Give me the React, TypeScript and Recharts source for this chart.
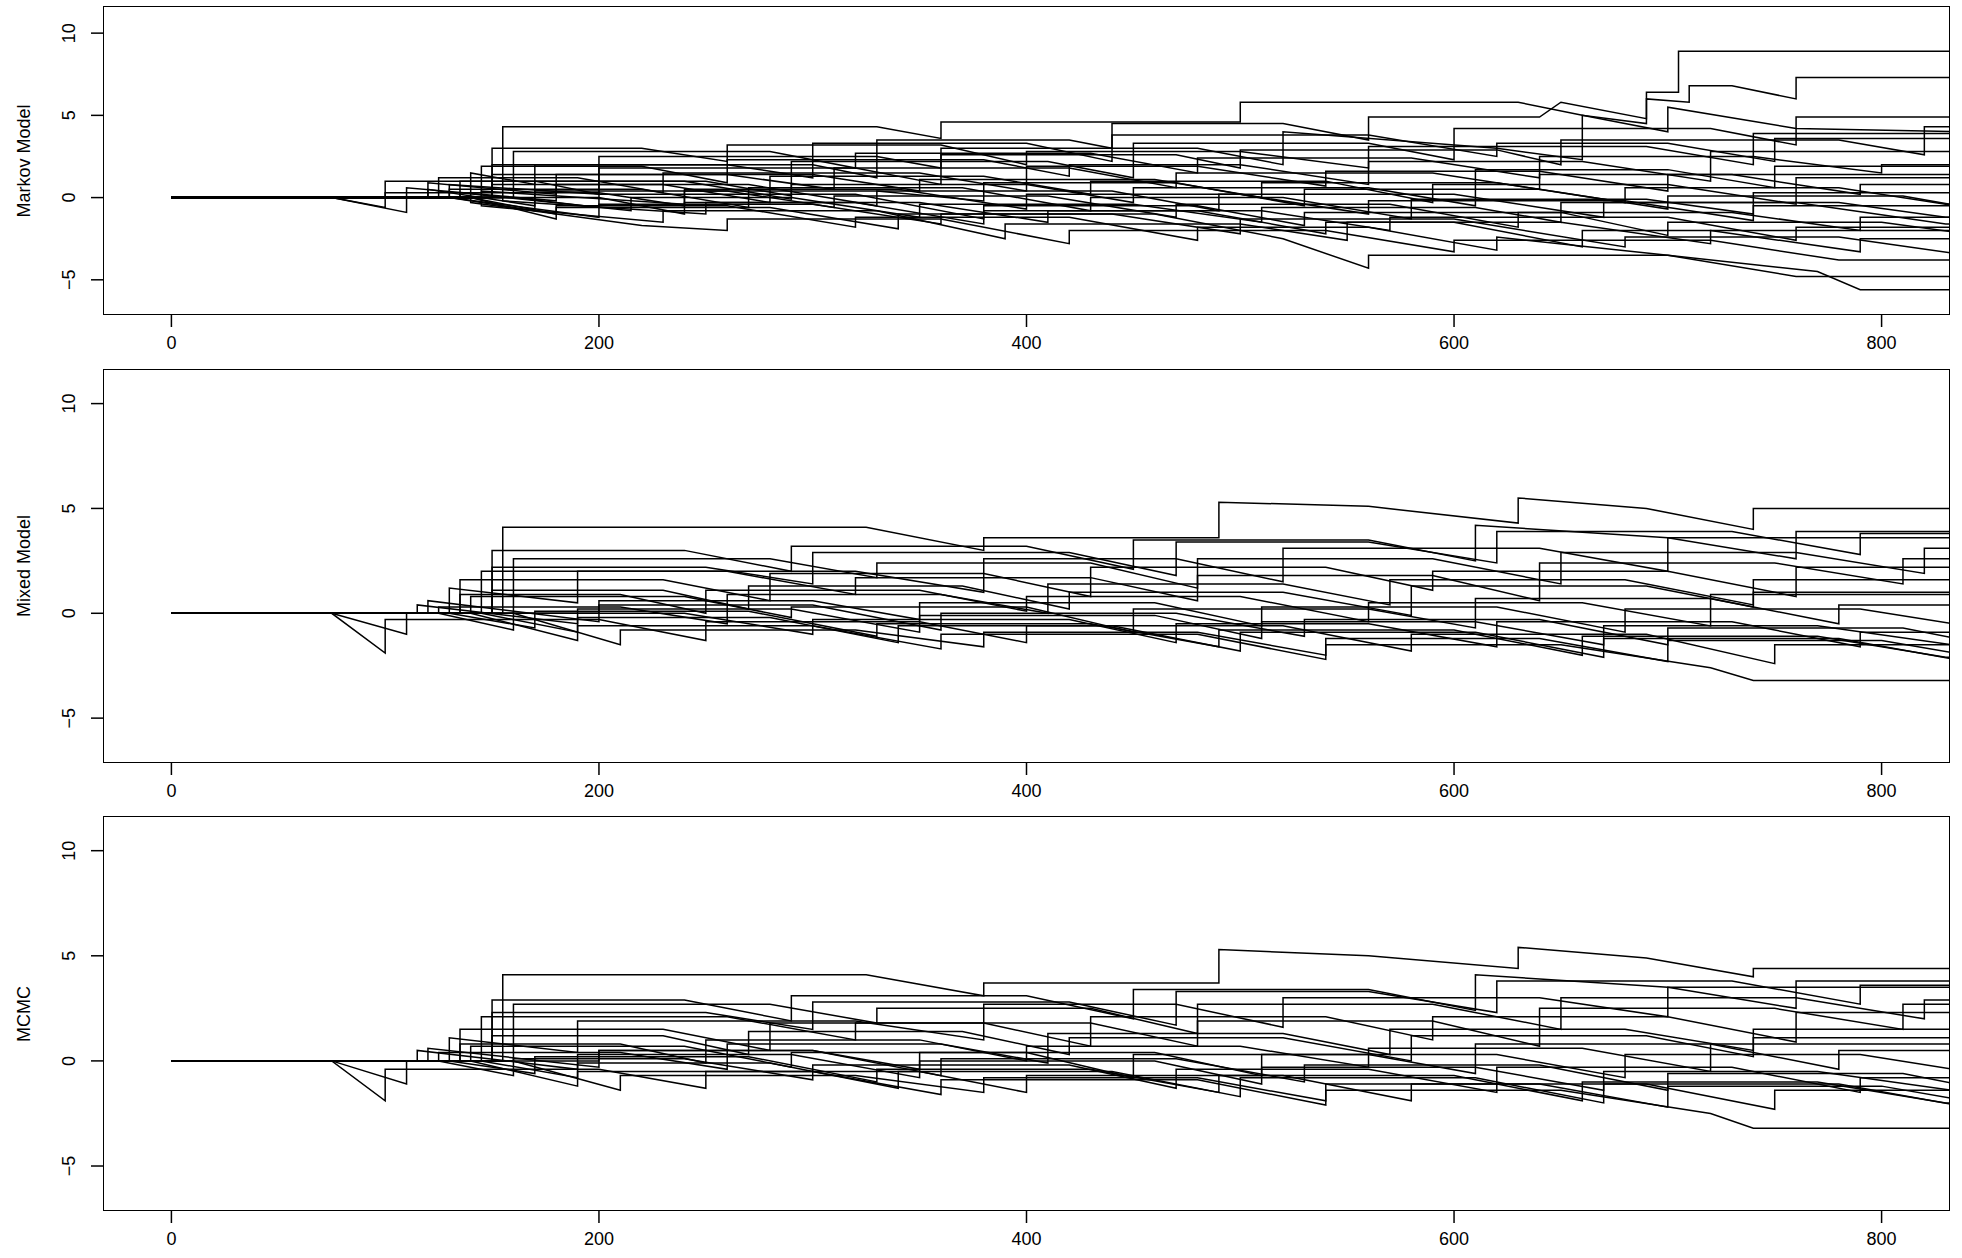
import { LineChart, Line, XAxis, YAxis } from "recharts";

const X_TICKS = [0, 200, 400, 600, 800];
const Y_TICKS = [-5, 0, 5, 10];
const PANEL_LABELS = ["Markov Model", "Mixed Model", "MCMC"];

// each path: flat list x0,y0,x1,y1,...
const MARKOV = [
  [0,0,155,0,155,4.3,330,4.3,360,3.6,360,4.6,500,4.6,500,5.8,630,5.8,660,5.0,700,4.0,700,5.5,760,4.2,840,4.0],
  [0,0,140,0,140,1.5,170,0.8,170,2.0,300,2.0,330,1.2,330,3.5,420,3.5,440,3.0,440,4.5,520,4.5,560,3.5,560,4.9,640,4.9,650,5.8,690,4.8,690,6.4,705,6.4,705,8.9,840,8.9],
  [0,0,130,0,130,0.8,200,0.2,200,2.5,330,2.5,360,1.8,360,3.0,480,3.0,520,2.0,520,4.0,620,3.0,660,2.3,660,5.0,690,4.5,690,6.0,710,5.8,710,6.8,730,6.8,760,6.0,760,7.3,840,7.3],
  [0,0,120,0,120,0.5,170,-0.5,170,1.0,250,1.0,290,0.1,290,2.2,410,2.2,450,1.2,450,3.3,560,3.3,600,2.3,600,4.2,720,4.2,760,3.2,760,4.9,840,4.9],
  [0,0,100,0,100,1.0,170,1.0,200,0.2,200,1.8,320,1.8,360,0.8,360,2.6,470,2.6,500,1.8,500,2.9,620,2.9,650,2.0,650,3.5,780,3.5,820,2.6,820,4.3,840,4.3],
  [0,0,75,0,110,-0.9,110,0,200,0,240,-1.0,240,-0.3,320,-0.3,380,-1.6,380,-0.8,480,-0.8,540,-2.2,540,-1.5,600,-1.5,660,-3.0,660,-2.0,720,-2.0,790,-3.3,790,-2.5,840,-2.5],
  [0,0,140,0,180,-1.0,180,-0.5,260,-0.5,320,-1.8,320,-1.2,420,-1.2,480,-2.6,480,-1.8,560,-1.8,620,-3.2,620,-2.4,700,-3.5,770,-4.5,790,-5.6,840,-5.6],
  [0,0,130,0,200,-1.2,200,-0.4,300,-0.4,360,-1.6,360,-1.0,460,-1.0,520,-2.5,560,-4.3,560,-3.5,700,-3.5,760,-4.8,840,-4.8],
  [0,0,75,0,100,-0.6,100,0.3,200,0.3,240,-0.5,240,0.5,340,0.5,400,-0.7,400,0.2,500,0.2,560,-1.0,560,-0.2,680,-0.2,740,-1.4,740,-0.5,840,-0.5],
  [0,0,150,0,150,0.8,230,0.8,280,-0.3,280,1.3,380,1.3,430,0.2,430,1.0,540,1.0,590,-0.3,590,0.8,700,0.8,760,-0.4,760,1.2,840,1.2],
  [0,0,145,0,145,-0.5,230,-1.5,230,-0.8,330,-0.8,390,-2.5,390,-1.6,500,-1.6,550,-2.6,550,-1.5,650,-1.5,720,-2.8,720,-2.0,840,-2.0],
  [0,0,135,0,135,0.3,215,-0.8,215,0.0,290,0.0,350,-1.2,350,-0.4,450,-0.4,510,-1.5,510,-0.6,610,-0.6,650,-1.5,650,-0.3,760,-0.3,830,-1.6,840,-1.6],
  [0,0,160,0,160,2.8,280,2.8,320,1.8,320,2.7,430,2.7,480,1.5,480,2.4,580,2.4,640,1.2,640,2.5,740,2.5,800,1.5,800,2.0,840,2.0],
  [0,0,125,0,125,1.2,190,1.2,230,0.3,230,1.5,350,1.5,400,0.4,400,1.9,480,1.9,540,0.7,540,1.6,640,1.6,700,0.4,700,1.4,840,1.4],
  [0,0,140,0,140,-0.3,220,-1.7,260,-2.0,260,-1.3,360,-1.3,420,-2.8,420,-2.0,540,-2.0,600,-3.3,600,-2.6,720,-2.6,780,-3.8,840,-3.8],
  [0,0,110,0,110,0.6,180,-0.2,180,0.8,270,0.8,330,-0.5,330,0.4,440,0.4,490,-0.8,490,0.2,600,0.2,670,-1.2,670,-0.3,780,-0.3,830,-1.2,840,-1.2],
  [0,0,150,0,150,2.0,260,2.0,300,1.2,300,3.3,400,3.3,440,2.2,440,3.8,560,3.8,620,2.5,620,3.3,700,3.3,750,2.2,750,3.6,840,3.6],
  [0,0,130,0,170,-0.8,170,0.4,260,0.4,310,-0.6,310,0.1,410,0.1,470,-1.2,470,-0.4,570,-0.4,630,-1.8,630,-0.9,730,-0.9,790,-2.0,790,-1.2,840,-1.2],
  [0,0,120,0,120,0.9,180,0.2,180,1.4,300,1.4,350,0.4,350,1.1,460,1.1,510,0.0,510,0.9,620,0.9,680,-0.3,680,0.6,780,0.6,830,-0.4,840,-0.4],
  [0,0,145,0,145,1.9,220,1.9,260,0.9,260,2.3,380,2.3,420,1.3,420,2.0,500,2.0,560,0.8,560,2.2,660,2.2,720,1.0,720,2.8,840,2.8],
  [0,0,160,0,200,-0.6,200,0.2,320,0.2,380,-1.3,380,-0.5,480,-0.5,530,-1.7,530,-0.9,650,-0.9,700,-2.3,700,-1.5,800,-1.5,840,-2.2],
  [0,0,130,0,130,0.5,220,0.5,270,-0.6,270,0.6,370,0.6,430,-0.8,430,0.0,520,0.0,580,-1.3,580,-0.1,690,-0.1,740,-1.0,740,0.3,840,0.3],
  [0,0,150,0,150,3.0,220,3.0,260,2.2,260,3.2,360,3.2,400,2.0,400,2.8,500,2.8,560,1.8,560,3.1,690,3.1,740,2.0,740,3.9,840,3.9],
  [0,0,140,0,180,-1.3,180,-0.6,280,-0.6,340,-1.9,340,-1.0,440,-1.0,500,-2.2,500,-1.3,600,-1.3,680,-3.0,680,-2.4,780,-2.4,840,-3.5],
  [0,0,135,0,135,1.0,240,1.0,290,-0.1,290,0.8,400,0.8,450,-0.3,450,0.6,560,0.6,610,-0.5,610,1.7,700,1.7,750,0.6,750,1.9,840,1.9],
  [0,0,155,0,155,-0.2,250,-1.0,250,-0.3,350,-0.3,410,-1.5,410,-0.8,510,-0.8,570,-2.0,570,-1.2,700,-1.2,760,-2.6,760,-1.8,840,-1.8],
  [0,0,145,0,145,0.4,240,-0.4,240,0.4,330,0.4,380,-0.2,380,0.9,470,0.9,530,-0.5,530,0.5,640,0.5,700,-0.7,700,0.1,810,0.1,840,-0.6],
  [0,0,150,0,150,1.4,260,1.4,310,0.5,310,1.8,420,1.8,470,0.6,470,1.5,590,1.5,640,0.5,640,1.4,730,1.4,790,0.2,790,0.8,840,0.8],
];

const MIXED = [
  [0,0,155,0,155,4.1,325,4.1,380,3.0,380,3.6,490,3.6,490,5.3,560,5.1,630,4.3,630,5.5,690,5.0,740,4.0,740,5.0,840,5.0],
  [0,0,75,0,100,-1.9,100,-0.3,200,-0.3,250,-1.3,250,-0.4,350,-0.4,400,-1.4,400,-0.6,520,-0.6,580,-1.8,580,-1.0,690,-1.0,750,-2.4,750,-1.5,840,-1.5],
  [0,0,75,0,110,-1.0,110,0,200,0,200,0.6,300,0.6,350,-0.3,350,0.5,460,0.5,510,-0.6,510,0.3,620,0.3,680,-0.9,680,0.2,790,0.2,840,-0.6],
  [0,0,130,0,130,1.2,190,0.5,190,2.0,320,2.0,380,1.0,380,2.6,470,2.6,520,1.5,520,3.1,640,3.1,700,2.0,700,3.6,840,3.6],
  [0,0,140,0,190,-1.3,190,-0.6,300,-0.6,360,-1.7,360,-1.0,480,-1.0,540,-2.2,540,-1.5,650,-1.5,720,-2.6,740,-3.2,840,-3.2],
  [0,0,150,0,150,2.2,250,2.2,300,1.4,300,2.9,420,2.9,470,1.8,470,3.4,560,3.4,620,2.4,620,3.9,730,3.9,790,2.8,790,3.8,840,3.8],
  [0,0,120,0,120,0.6,200,-0.4,200,0.4,300,0.4,360,-0.8,360,0.0,470,0.0,530,-1.1,530,-0.3,640,-0.3,700,-1.5,700,-0.7,810,-0.7,840,-1.3],
  [0,0,135,0,135,1.6,230,1.6,280,0.6,280,1.9,380,1.9,430,0.8,430,2.2,540,2.2,590,1.1,590,2.0,700,2.0,760,0.8,760,2.2,840,2.2],
  [0,0,145,0,190,-0.9,190,-0.2,280,-0.2,340,-1.4,340,-0.6,440,-0.6,500,-1.8,500,-0.9,610,-0.9,670,-2.1,670,-1.2,780,-1.2,840,-2.3],
  [0,0,125,0,125,0.3,210,0.3,260,-0.5,260,0.9,360,0.9,410,0.0,410,1.4,520,1.4,570,0.4,570,1.6,680,1.6,740,0.4,740,1.0,840,1.0],
  [0,0,160,0,160,2.6,280,2.6,330,1.7,330,2.4,430,2.4,480,1.2,480,2.6,590,2.6,650,1.4,650,2.9,760,2.9,820,1.9,820,3.1,840,3.1],
  [0,0,140,0,140,0.8,240,0.8,290,-0.2,290,0.3,400,0.3,450,-0.9,450,0.2,560,0.2,610,-0.7,610,0.7,720,0.7,780,-0.5,780,0.4,840,0.4],
  [0,0,130,0,170,-0.7,170,0.1,270,0.1,330,-1.1,330,-0.5,430,-0.5,490,-1.6,490,-0.8,600,-0.8,660,-2.0,660,-1.1,770,-1.1,830,-2.1,840,-2.1],
  [0,0,150,0,150,1.1,230,1.1,270,0.2,270,1.3,370,1.3,420,0.2,420,1.0,520,1.0,580,-0.1,580,1.3,690,1.3,740,0.3,740,1.6,840,1.6],
  [0,0,115,0,115,0.4,190,-0.5,190,0.2,290,0.2,350,-0.9,350,-0.1,460,-0.1,510,-1.2,510,-0.4,610,-0.4,670,-1.5,670,-0.6,770,-0.6,840,-1.6],
  [0,0,145,0,145,2.0,260,2.0,320,0.9,320,1.7,430,1.7,480,0.6,480,1.8,590,1.8,640,0.6,640,2.4,750,2.4,810,1.4,810,2.6,840,2.6],
  [0,0,160,0,210,-1.5,210,-0.8,320,-0.8,380,-1.6,380,-0.9,480,-0.9,540,-2.0,540,-1.2,640,-1.2,700,-2.3,700,-1.3,800,-1.3,840,-2.0],
  [0,0,135,0,135,0.9,210,0.9,250,0.0,250,1.1,350,1.1,400,0.1,400,0.8,500,0.8,560,-0.4,560,0.5,660,0.5,720,-0.6,720,0.9,840,0.9],
  [0,0,150,0,150,3.0,240,3.0,290,2.0,290,3.2,400,3.2,450,2.1,450,3.5,560,3.5,610,2.5,610,4.2,700,3.6,760,2.6,760,3.9,840,3.9],
  [0,0,125,0,160,-0.8,160,0.0,240,0.0,300,-1.0,300,-0.3,420,-0.3,470,-1.4,470,-0.5,560,-0.5,620,-1.6,620,-0.4,730,-0.4,790,-1.6,790,-0.9,840,-0.9],
];

const MCMC = [
  [0,0,155,0,155,4.1,325,4.1,380,3.1,380,3.7,490,3.7,490,5.3,560,5.0,630,4.4,630,5.4,690,4.9,740,4.0,740,4.4,840,4.4],
  [0,0,75,0,100,-1.9,100,-0.4,200,-0.4,250,-1.3,250,-0.5,350,-0.5,400,-1.5,400,-0.7,520,-0.7,580,-1.9,580,-1.1,690,-1.1,750,-2.3,750,-1.4,840,-1.4],
  [0,0,75,0,110,-1.1,110,0,200,0,200,0.5,300,0.5,350,-0.4,350,0.4,460,0.4,510,-0.7,510,0.3,620,0.3,680,-0.8,680,0.3,790,0.3,840,-0.5],
  [0,0,130,0,130,1.1,190,0.4,190,1.9,320,1.9,380,1.0,380,2.7,470,2.7,520,1.6,520,3.0,640,3.0,700,2.1,700,3.5,840,3.5],
  [0,0,140,0,190,-1.2,190,-0.5,300,-0.5,360,-1.6,360,-0.9,480,-0.9,540,-2.1,540,-1.4,650,-1.4,720,-2.5,740,-3.2,840,-3.2],
  [0,0,150,0,150,2.3,250,2.3,300,1.5,300,2.8,420,2.8,470,1.7,470,3.3,560,3.3,620,2.3,620,3.8,730,3.8,790,2.7,790,3.6,840,3.6],
  [0,0,120,0,120,0.6,200,-0.3,200,0.5,300,0.5,360,-0.7,360,0.1,470,0.1,530,-1.0,530,-0.2,640,-0.2,700,-1.4,700,-0.6,810,-0.6,840,-1.2],
  [0,0,135,0,135,1.5,230,1.5,280,0.5,280,1.8,380,1.8,430,0.7,430,2.1,540,2.1,590,1.0,590,2.1,700,2.1,760,0.9,760,2.3,840,2.3],
  [0,0,145,0,190,-0.8,190,-0.1,280,-0.1,340,-1.3,340,-0.5,440,-0.5,500,-1.7,500,-0.8,610,-0.8,670,-2.0,670,-1.1,780,-1.1,840,-2.2],
  [0,0,125,0,125,0.4,210,0.4,260,-0.4,260,0.8,360,0.8,410,-0.1,410,1.3,520,1.3,570,0.3,570,1.5,680,1.5,740,0.5,740,1.1,840,1.1],
  [0,0,160,0,160,2.7,280,2.7,330,1.8,330,2.5,430,2.5,480,1.3,480,2.7,590,2.7,650,1.5,650,3.0,760,3.0,820,2.0,820,2.9,840,2.9],
  [0,0,140,0,140,0.7,240,0.7,290,-0.3,290,0.4,400,0.4,450,-0.8,450,0.3,560,0.3,610,-0.6,610,0.8,720,0.8,780,-0.4,780,0.5,840,0.5],
  [0,0,130,0,170,-0.6,170,0.2,270,0.2,330,-1.0,330,-0.4,430,-0.4,490,-1.5,490,-0.7,600,-0.7,660,-1.9,660,-1.0,770,-1.0,830,-2.0,840,-2.0],
  [0,0,150,0,150,1.2,230,1.2,270,0.3,270,1.4,370,1.4,420,0.3,420,1.1,520,1.1,580,0.0,580,1.2,690,1.2,740,0.2,740,1.5,840,1.5],
  [0,0,115,0,115,0.5,190,-0.4,190,0.3,290,0.3,350,-0.8,350,0.0,460,0.0,510,-1.1,510,-0.3,610,-0.3,670,-1.4,670,-0.5,770,-0.5,840,-1.5],
  [0,0,145,0,145,2.1,260,2.1,320,1.0,320,1.8,430,1.8,480,0.7,480,1.9,590,1.9,640,0.7,640,2.5,750,2.5,810,1.5,810,2.7,840,2.7],
  [0,0,160,0,210,-1.4,210,-0.7,320,-0.7,380,-1.5,380,-0.8,480,-0.8,540,-1.9,540,-1.1,640,-1.1,700,-2.2,700,-1.2,800,-1.2,840,-1.9],
  [0,0,135,0,135,0.8,210,0.8,250,-0.1,250,1.0,350,1.0,400,0.0,400,0.7,500,0.7,560,-0.3,560,0.6,660,0.6,720,-0.5,720,0.8,840,0.8],
  [0,0,150,0,150,2.9,240,2.9,290,1.9,290,3.1,400,3.1,450,2.0,450,3.4,560,3.4,610,2.4,610,4.1,700,3.5,760,2.5,760,3.8,840,3.8],
  [0,0,125,0,160,-0.7,160,0.1,240,0.1,300,-0.9,300,-0.2,420,-0.2,470,-1.3,470,-0.4,560,-0.4,620,-1.5,620,-0.3,730,-0.3,790,-1.5,790,-0.8,840,-0.8],
];

const PANELS = [MARKOV, MIXED, MCMC];

// panel geometry in page pixels: plot top / plot bottom
const LAYOUT = [
  { top: 6, bottom: 315 },
  { top: 369, bottom: 763 },
  { top: 816, bottom: 1211 },
];

const PLOT_LEFT = 103;
const PLOT_RIGHT = 1950;
const FONT = "'Liberation Sans', Arial, sans-serif";

function toPoints(flat: number[]) {
  const pts: { x: number; y: number }[] = [];
  for (let i = 0; i < flat.length; i += 2) pts.push({ x: flat[i], y: flat[i + 1] });
  return pts;
}

function YTick(props: any) {
  const { x, y, payload } = props;
  const tx = x - 14;
  return (
    <text
      x={tx}
      y={y}
      transform={`rotate(-90 ${tx} ${y})`}
      textAnchor="middle"
      fontSize={18}
      fontFamily={FONT}
      fill="#000"
    >
      {payload.value < 0 ? "\u2212" + Math.abs(payload.value) : payload.value}
    </text>
  );
}

function XTick(props: any) {
  const { x, y, payload } = props;
  return (
    <text x={x} y={y + 20} textAnchor="middle" fontSize={18} fontFamily={FONT} fill="#000">
      {payload.value}
    </text>
  );
}

function Panel({ idx }: { idx: number }) {
  const { top, bottom } = LAYOUT[idx];
  const chartTop = top - 6;
  const plotH = bottom - top;
  const series = PANELS[idx];
  return (
    <div style={{ position: "absolute", left: 0, top: chartTop, width: 1962, height: plotH + 70 }}>
      <LineChart
        width={1962}
        height={plotH + 70}
        margin={{ top: 6, left: PLOT_LEFT - 60, right: 1962 - PLOT_RIGHT, bottom: 0 }}
      >
        <XAxis
          type="number"
          dataKey="x"
          domain={[-32, 832]}
          allowDataOverflow
          ticks={X_TICKS}
          axisLine={false}
          tickLine={{ stroke: "#000", strokeWidth: 1.5 }}
          tickSize={12}
          tick={<XTick />}
          height={64}
        />
        <YAxis
          type="number"
          dataKey="y"
          domain={[-7.14, 11.65]}
          allowDataOverflow
          ticks={Y_TICKS}
          axisLine={false}
          tickLine={{ stroke: "#000", strokeWidth: 1.5 }}
          tickSize={12}
          tick={<YTick />}
          width={60}
        />
        {series.map((s, i) => (
          <Line
            key={i}
            data={toPoints(s)}
            dataKey="y"
            type="linear"
            stroke="#000"
            strokeWidth={1.5}
            dot={false}
            activeDot={false}
            isAnimationActive={false}
          />
        ))}
      </LineChart>
      <div
        style={{
          position: "absolute",
          left: PLOT_LEFT,
          top: 6,
          width: PLOT_RIGHT - PLOT_LEFT,
          height: plotH,
          border: "1.5px solid #000",
          boxSizing: "border-box",
          pointerEvents: "none",
        }}
      />
      <div
        style={{
          position: "absolute",
          left: 24,
          top: 6 + plotH / 2,
          transform: "translate(-50%, -50%) rotate(-90deg)",
          fontFamily: FONT,
          fontSize: 18,
          whiteSpace: "nowrap",
        }}
      >
        {PANEL_LABELS[idx]}
      </div>
    </div>
  );
}

export default function App() {
  return (
    <div style={{ position: "fixed", left: 0, top: 0, width: 1962, height: 1258, background: "#fff" }}>
      {[0, 1, 2].map((i) => (
        <Panel key={i} idx={i} />
      ))}
    </div>
  );
}
